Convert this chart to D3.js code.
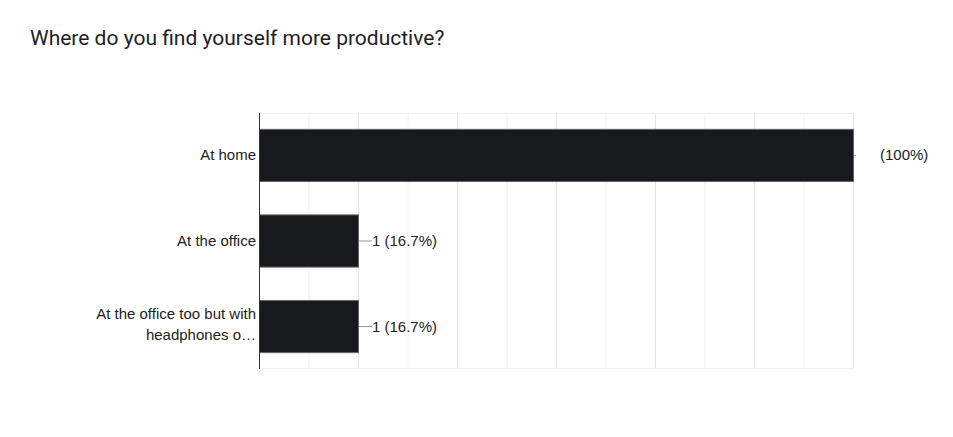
<!DOCTYPE html>
<html>
<head>
<meta charset="utf-8">
<script src="https://cdn.jsdelivr.net/npm/d3@7"></script>
<style>
  body { margin: 0; background: #fff; }
  text { font-family: "Liberation Sans", Arial, sans-serif; }
</style>
</head>
<body>
<div id="chart"></div>
<script>
// Google Forms style horizontal bar chart

var title = "Where do you find yourself more productive?";

// categories, one line per wrapped label row
var categories = ["At home", "At the office", "At the office too but with headphones o..."];
var categoryLines = [["At home"], ["At the office"], ["At the office too but with", "headphones o\u2026"]];
var counts = [6, 1, 1];
var valueLabels = ["(100%)", "1 (16.7%)", "1 (16.7%)"];
var gridTicks = [0, 0.5, 1, 1.5, 2, 2.5, 3, 3.5, 4, 4.5, 5, 5.5, 6];

var svgWidth = 953;
var svgHeight = 437;

var margin = { top: 113, left: 259 };
var width = 594;
var height = 255;

var svg = d3.select("#chart")
  .append("svg")
  .attr("width", svgWidth)
  .attr("height", svgHeight);

// title
svg.append("text")
  .attr("x", 30)
  .attr("y", 45)
  .attr("fill", "#202124")
  .style("font-family", "Roboto, 'Open Sans', sans-serif")
  .style("font-size", "21px")
  .text(title);

var chartGroup = svg.append("g")
  .attr("transform", `translate(${margin.left}, ${margin.top})`);

var xScale = d3.scaleLinear()
  .domain([0, 6])
  .range([0, width]);

var yScale = d3.scaleBand()
  .domain(categories)
  .range([0, height])
  .paddingInner(0.39)
  .paddingOuter(0.185);

// vertical gridlines
chartGroup.selectAll(".grid")
  .data(gridTicks)
  .enter()
  .append("line")
  .attr("x1", d => xScale(d) + 0.5)
  .attr("x2", d => xScale(d) + 0.5)
  .attr("y1", 0)
  .attr("y2", height)
  .attr("stroke", d => d % 1 === 0 ? "#e6e6e6" : "#f0f0f0")
  .attr("stroke-width", 1);

// top and bottom frame lines
chartGroup.append("line")
  .attr("x1", 0).attr("x2", width + 1)
  .attr("y1", 0.5).attr("y2", 0.5)
  .attr("stroke", "#eeeeee");
chartGroup.append("line")
  .attr("x1", 0).attr("x2", width + 1)
  .attr("y1", height + 0.5).attr("y2", height + 0.5)
  .attr("stroke", "#eeeeee");

// bars
chartGroup.selectAll(".bar")
  .data(counts)
  .enter()
  .append("rect")
  .attr("x", xScale(0) + 0.5)
  .attr("y", (d, i) => yScale(categories[i]) + 0.5)
  .attr("width", d => xScale(d) - xScale(0))
  .attr("height", yScale.bandwidth())
  .attr("fill", "#17191c")
  .attr("stroke", "#666666")
  .attr("stroke-width", 1);

// leader lines to value labels
chartGroup.selectAll(".leader")
  .data(counts)
  .enter()
  .append("line")
  .attr("x1", d => xScale(d) + 1)
  .attr("x2", d => xScale(d) + (d === 6 ? 3 : 14))
  .attr("y1", (d, i) => yScale(categories[i]) + yScale.bandwidth() / 2 + 0.5)
  .attr("y2", (d, i) => yScale(categories[i]) + yScale.bandwidth() / 2 + 0.5)
  .attr("stroke", "#999999")
  .attr("stroke-width", 1);

// value labels
chartGroup.selectAll(".valueLabel")
  .data(counts)
  .enter()
  .append("text")
  .attr("x", d => d === 6 ? xScale(d) + 27 : xScale(d) + 14)
  .attr("y", (d, i) => yScale(categories[i]) + yScale.bandwidth() / 2 + 5.5)
  .attr("fill", "#222222")
  .style("font-size", "15px")
  .text((d, i) => valueLabels[i]);

// category labels
var catLabels = chartGroup.selectAll(".catLabel")
  .data(categoryLines)
  .enter()
  .append("text")
  .attr("text-anchor", "end")
  .attr("fill", "#222222")
  .style("font-size", "15px")
  .attr("transform", (d, i) => `translate(-3, ${yScale(categories[i]) + yScale.bandwidth() / 2 + 5.5 - (d.length - 1) * 13})`);

catLabels.selectAll("tspan")
  .data(d => d)
  .enter()
  .append("tspan")
  .attr("x", 0)
  .attr("dy", (d, i) => i === 0 ? 0 : 21)
  .text(d => d);

// left axis line
chartGroup.append("line")
  .attr("x1", 0.5).attr("x2", 0.5)
  .attr("y1", 0).attr("y2", height + 1)
  .attr("stroke", "#333333")
  .attr("stroke-width", 1);
</script>
</body>
</html>
